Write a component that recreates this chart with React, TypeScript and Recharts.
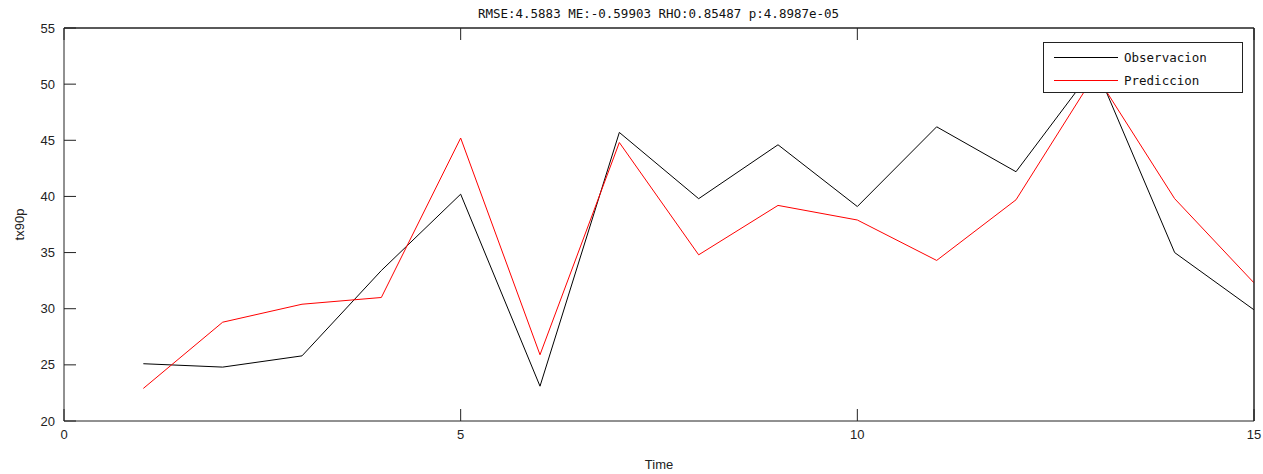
import { LineChart, Line, XAxis, YAxis, Legend, Label, ReferenceLine } from 'recharts';

const time = [1, 2, 3, 4, 5, 6, 7, 8, 9, 10, 11, 12, 13, 14, 15];
const observacion = [25.1, 24.8, 25.8, 33.4, 40.2, 23.1, 45.7, 39.8, 44.6, 39.1, 46.2, 42.2, 51.6, 35.0, 29.9];
const prediccion = [22.9, 28.8, 30.4, 31.0, 45.2, 25.9, 44.8, 34.8, 39.2, 37.9, 34.3, 39.7, 50.9, 39.8, 32.3];
const xTicks = [0, 5, 10, 15];
const yTicks = [20, 25, 30, 35, 40, 45, 50, 55];
const title = 'RMSE:4.5883 ME:-0.59903 RHO:0.85487 p:4.8987e-05';

const data = time.map((t, i) => ({ t, obs: observacion[i], pred: prediccion[i] }));

const AXIS = '#222';
const tickFont = { fontFamily: 'Liberation Sans, Arial, sans-serif', fontSize: 13, fill: '#222' };
const monoFont = 'DejaVu Sans Mono, monospace';

const LegendBox = () => (
  <div
    style={{
      width: 200,
      height: 51,
      border: '1px solid #222',
      background: '#fff',
      fontFamily: monoFont,
      fontSize: 12.5,
      color: '#111',
      boxSizing: 'border-box',
      paddingTop: 3,
    }}
  >
    {[
      { name: 'Observacion', color: '#000' },
      { name: 'Prediccion', color: '#ff0000' },
    ].map((s) => (
      <div key={s.name} style={{ display: 'flex', alignItems: 'center', height: 23 }}>
        <div style={{ width: 64, height: 1, background: s.color, marginLeft: 10, marginRight: 6 }} />
        <span>{s.name}</span>
      </div>
    ))}
  </div>
);

const noTick = () => <g />;

export default function App() {
  return (
    <div style={{ position: 'absolute', left: 0, top: 0, width: 1263, height: 474, background: '#fff' }}>
      <div
        style={{
          position: 'absolute',
          top: 6,
          left: 0,
          width: 1263,
          paddingLeft: 54,
          boxSizing: 'border-box',
          textAlign: 'center',
          fontFamily: monoFont,
          fontSize: 12.5,
          color: '#111',
        }}
      >
        {title}
      </div>
      <LineChart width={1263} height={474} data={data} margin={{ top: 27, right: 8, bottom: 0, left: 0 }}>
        <XAxis
          xAxisId="b"
          dataKey="t"
          type="number"
          domain={[0, 15]}
          ticks={xTicks}
          height={53}
          stroke={AXIS}
          tickSize={-12}
          tickMargin={21}
          tick={tickFont}
          allowDataOverflow
        >
          <Label value="Time" position="insideBottom" offset={5} style={{ ...tickFont, textAnchor: 'middle' }} />
        </XAxis>
        <XAxis
          xAxisId="t"
          dataKey="t"
          type="number"
          orientation="top"
          domain={[0, 15]}
          ticks={xTicks}
          height={1}
          stroke={AXIS}
          tickSize={-12}
          tick={noTick}
        />
        <YAxis
          yAxisId="l"
          domain={[20, 55]}
          ticks={yTicks}
          width={64}
          stroke={AXIS}
          tickSize={-12}
          tickMargin={21}
          tick={tickFont}
          allowDataOverflow
        >
          <Label
            value="tx90p"
            angle={-90}
            position="insideLeft"
            offset={19}
            style={{ ...tickFont, textAnchor: 'middle' }}
          />
        </YAxis>
        <YAxis
          yAxisId="r"
          orientation="right"
          domain={[20, 55]}
          ticks={yTicks}
          width={1}
          stroke={AXIS}
          tickSize={-12}
          tick={noTick}
        />
        <ReferenceLine xAxisId="b" yAxisId="l" y={55} stroke={AXIS} />
        <ReferenceLine xAxisId="b" yAxisId="l" x={15} stroke={AXIS} />
        <Legend
          content={<LegendBox />}
          layout="horizontal"
          verticalAlign="middle"
          align="center"
          wrapperStyle={{ position: 'absolute', top: 42, left: 1043, width: 200, right: 'auto', bottom: 'auto' }}
        />
        <Line
          xAxisId="b"
          yAxisId="l"
          dataKey="obs"
          name="Observacion"
          stroke="#000"
          strokeWidth={1}
          dot={false}
          type="linear"
          isAnimationActive={false}
        />
        <Line
          xAxisId="b"
          yAxisId="l"
          dataKey="pred"
          name="Prediccion"
          stroke="#ff0000"
          strokeWidth={1}
          dot={false}
          type="linear"
          isAnimationActive={false}
        />
      </LineChart>
    </div>
  );
}
